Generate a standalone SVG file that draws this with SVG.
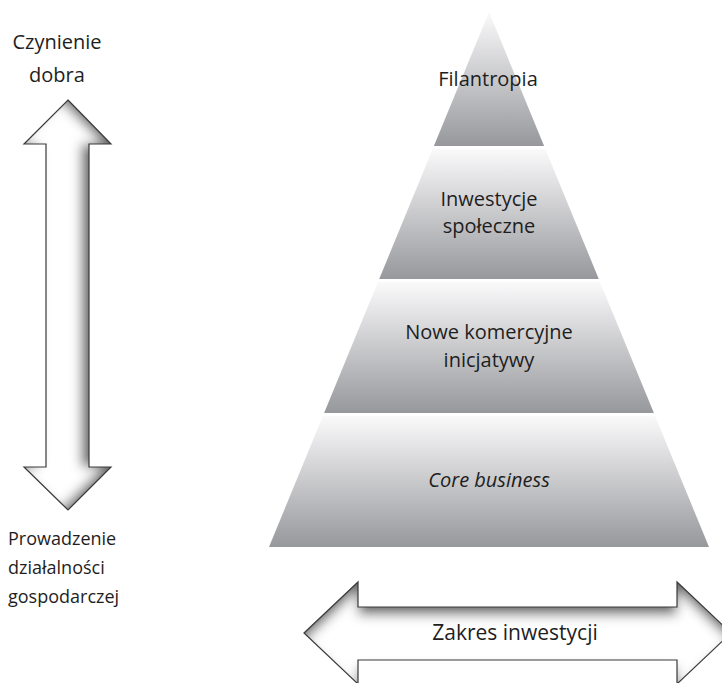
<svg xmlns="http://www.w3.org/2000/svg" width="722" height="683" viewBox="0 0 722 683">
<style>
.t{font-family:"Open Sans","Liberation Sans",sans-serif;fill:#1e1e1e;}
.band{fill:url(#bandGrad);}
.arrowOutline{fill:none;stroke:#3a3a3a;stroke-width:1.2;stroke-linejoin:miter;}
</style>
<defs>
<linearGradient id="bandGrad" x1="0" y1="0" x2="0" y2="1">
<stop offset="0" stop-color="#fafafb"/>
<stop offset="1" stop-color="#97989c"/>
</linearGradient>
<filter id="innerR" x="-30%" y="-10%" width="160%" height="120%">
<feComponentTransfer in="SourceAlpha"><feFuncA type="table" tableValues="1 0"/></feComponentTransfer>
<feGaussianBlur stdDeviation="6"/>
<feOffset dx="-8" dy="0" result="sh"/>
<feFlood flood-color="#666666"/>
<feComposite in2="sh" operator="in"/>
<feComposite in2="SourceAlpha" operator="in" result="inner"/>
<feMerge><feMergeNode in="SourceGraphic"/><feMergeNode in="inner"/></feMerge>
</filter>
<filter id="innerT" x="-10%" y="-30%" width="120%" height="160%">
<feComponentTransfer in="SourceAlpha"><feFuncA type="table" tableValues="1 0"/></feComponentTransfer>
<feGaussianBlur stdDeviation="6"/>
<feOffset dx="0" dy="8" result="sh"/>
<feFlood flood-color="#666666"/>
<feComposite in2="sh" operator="in"/>
<feComposite in2="SourceAlpha" operator="in" result="inner"/>
<feMerge><feMergeNode in="SourceGraphic"/><feMergeNode in="inner"/></feMerge>
</filter>
</defs>

<g id="connectors">
<g id="arrow-vertical">
<path d="M68,100 L111,144 L89,144 L89,467 L111,467 L68,510 L24,467 L46,467 L46,144 L24,144 Z" fill="#ffffff" filter="url(#innerR)"/>
<path class="arrowOutline" d="M68,100 L111,144 L89,144 L89,467 L111,467 L68,510 L24,467 L46,467 L46,144 L24,144 Z"/>
</g>
<g id="arrow-horizontal">
<path d="M304,633 L358,582 L358,607 L677,607 L677,582 L731,633 L677,684 L677,660 L358,660 L358,684 Z" fill="#ffffff" filter="url(#innerT)"/>
<path class="arrowOutline" d="M304,633 L358,582 L358,607 L677,607 L677,582 L731,633 L677,684 L677,660 L358,660 L358,684 Z"/>
</g>
</g>

<g id="label-czynienie">
<text class="t" x="57" y="49" font-size="20" text-anchor="middle">Czynienie</text>
<text class="t" x="57" y="82" font-size="20" text-anchor="middle">dobra</text>
</g>

<g id="label-prowadzenie">
<text class="t" x="8" y="545" font-size="18">Prowadzenie</text>
<text class="t" x="8" y="574" font-size="18">działalności</text>
<text class="t" x="8" y="603" font-size="18">gospodarczej</text>
</g>

<g id="band-filantropia">
<polygon class="band" points="489,12 544.1,146 433.9,146"/>
<text class="t" x="488" y="86" font-size="20" text-anchor="middle">Filantropia</text>
</g>

<g id="band-inwestycje">
<polygon class="band" points="432.7,149 545.3,149 598.8,279 379.2,279"/>
<text class="t" x="489" y="206" font-size="20" text-anchor="middle">Inwestycje</text>
<text class="t" x="489" y="233" font-size="20" text-anchor="middle">społeczne</text>
</g>

<g id="band-nowe">
<polygon class="band" points="378,282 600,282 653.9,413 324.1,413"/>
<text class="t" x="489" y="339" font-size="20" text-anchor="middle">Nowe komercyjne</text>
<text class="t" x="489" y="367" font-size="20" text-anchor="middle">inicjatywy</text>
</g>

<g id="band-core">
<polygon class="band" points="322.9,416 655.1,416 709,547 269,547"/>
<text class="t" x="489" y="487" font-size="20" font-style="italic" text-anchor="middle">Core business</text>
</g>

<g id="label-zakres">
<text class="t" x="515" y="640" font-size="21" text-anchor="middle">Zakres inwestycji</text>
</g>
</svg>
